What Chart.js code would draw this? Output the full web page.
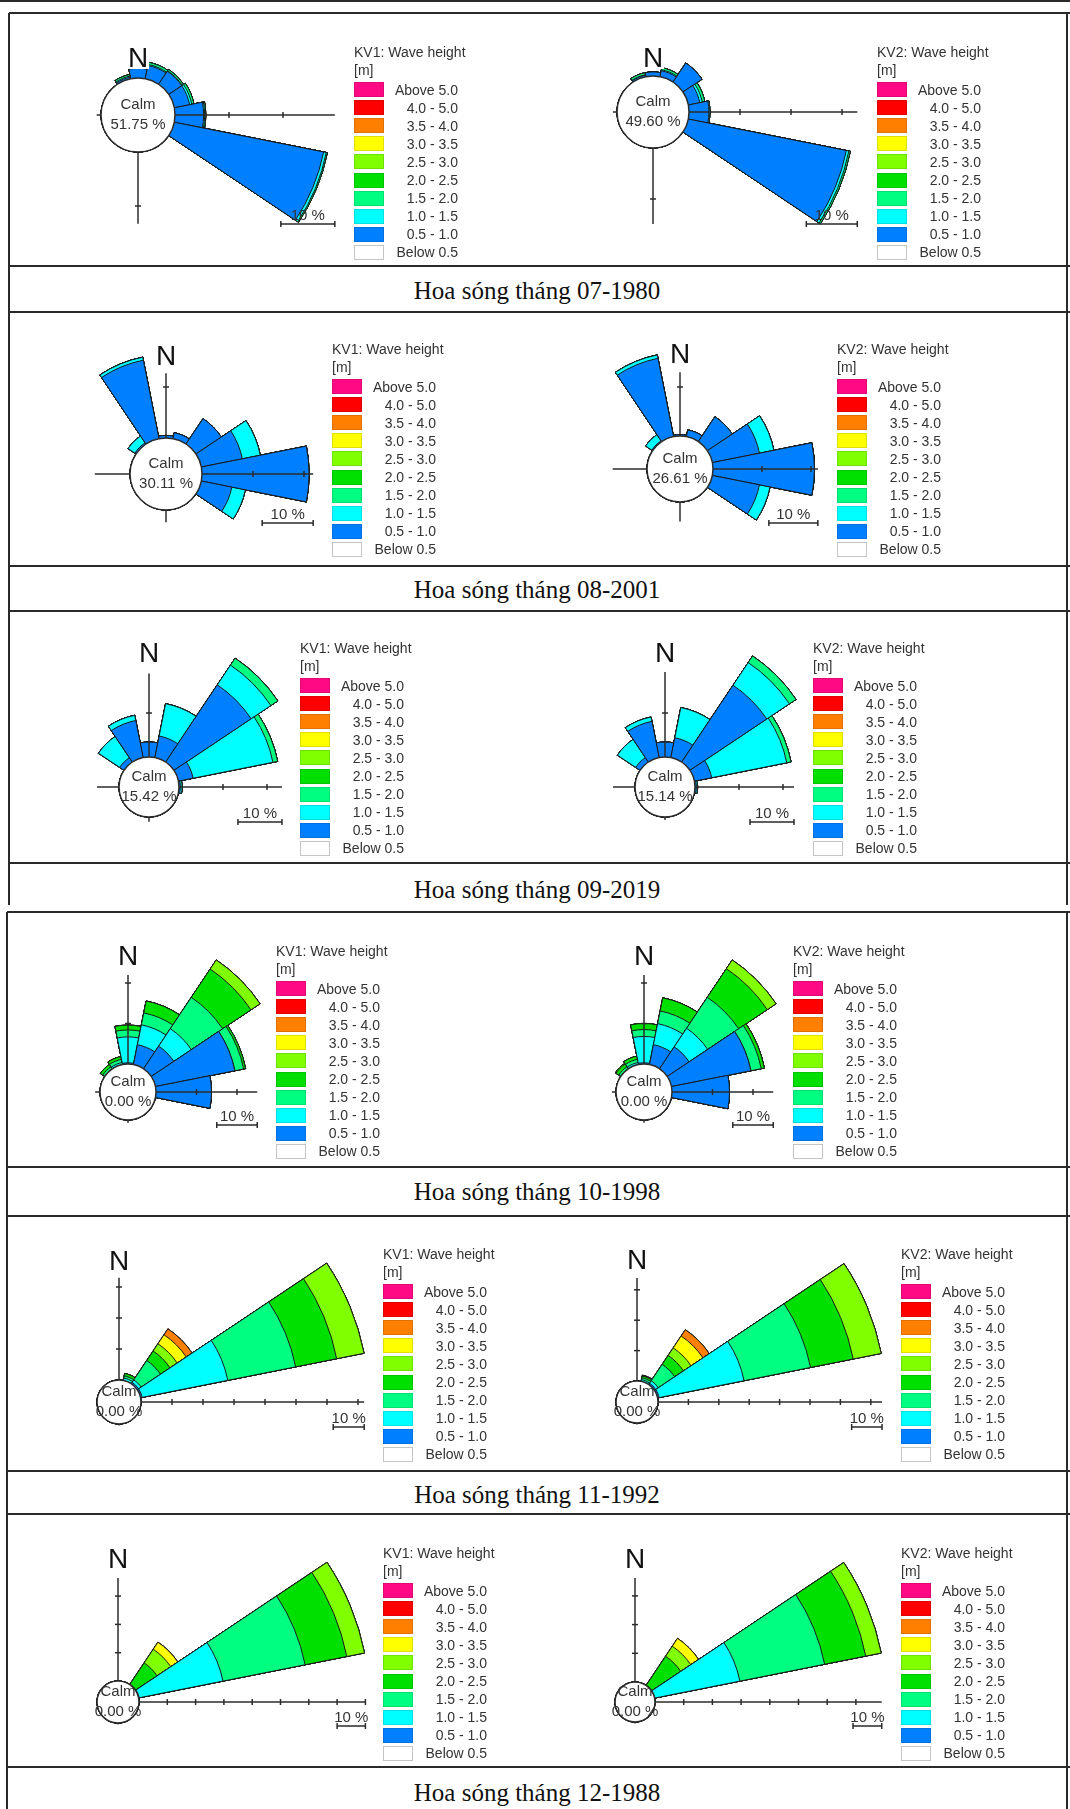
<!DOCTYPE html>
<html>
<head>
<meta charset="utf-8">
<script src="https://cdn.jsdelivr.net/npm/chart.js@4.4.1/dist/chart.umd.min.js"></script>
<style>
  body { margin: 0; width: 1070px; height: 1809px; position: relative; overflow: hidden; background: #fff;
         font-family: "Liberation Sans", Arial, sans-serif; }
  .hl { position: absolute; height: 2px; background: #2a2a2a; }
  .vl { position: absolute; width: 2px; background: #2a2a2a; }
  .cap { position: absolute; left: 0; width: 1074px; text-align: center; line-height: 30px;
         font-family: "Liberation Serif", "Times New Roman", serif; font-size: 25px; color: #111; }
  .rose { position: absolute; }
  .lg { position: absolute; font-size: 14px; line-height: 16px; color: #333; white-space: nowrap; }
  .box { position: absolute; width: 30px; height: 15px; box-sizing: border-box; border: 1px solid rgba(0,0,0,0.12); }
</style>
</head>
<body>
<script>
// hướng sóng (16 hướng) và các cấp độ cao sóng
const directions = ['N','NNE','NE','ENE','E','ESE','SE','SSE','S','SSW','SW','WSW','W','WNW','NW','NNW'];
const heightBins = ['0.5 - 1.0','1.0 - 1.5','1.5 - 2.0','2.0 - 2.5','2.5 - 3.0','3.0 - 3.5','3.5 - 4.0','4.0 - 5.0','Above 5.0'];
const legendLabels = ['Above 5.0','4.0 - 5.0','3.5 - 4.0','3.0 - 3.5','2.5 - 3.0','2.0 - 2.5','1.5 - 2.0','1.0 - 1.5','0.5 - 1.0','Below 0.5'];
const months = ['07-1980','08-2001','09-2019','10-1998','11-1992','12-1988'];
const stations = ['KV1','KV2'];
const calmPct = [51.75, 49.60, 30.11, 26.61, 15.42, 15.14, 0.00, 0.00, 0.00, 0.00, 0.00, 0.00];

// tần suất (%) theo hướng, mỗi mảng đi từ cấp 0.5-1.0 trở lên
const kv1_07_1980 = { NNW: [0.3, 0.2, 0.3], N: [1.8], NNE: [2.5, 0.2, 0.4], NE: [2.9, 0.1, 0.3],
                      ENE: [2.9, 0.4, 0.4], E: [5.3, 0.2, 0.2], ESE: [28.2, 0.5, 0.2] };
const kv2_07_1980 = { NNW: [0.3, 0.1, 0.4], N: [0.8], NNE: [1.2, 0.2, 0.4], NE: [4.5],
                      ENE: [2.3, 0.5, 0.5], E: [3.9, 0.2], ESE: [31.6, 0.5, 0.3] };
const kv1_08_2001 = { NW: [0.3, 1.6], NNW: [15.7, 0.6], N: [0.5], NNE: [1.2], NE: [6.0],
                      ENE: [8.2, 3.6], E: [21.0], ESE: [6.1, 2.7] };
const kv2_08_2001 = { NW: [0.2, 1.5], NNW: [16.3, 0.7], N: [0.3], NNE: [1.4], NE: [6.1],
                      ENE: [9.8, 3.0], E: [20.7], ESE: [9.8, 2.2] };
const kv1_09_2019 = { NW: [1.2, 5.8], NNW: [8.6, 1.2], N: [3.4], NNE: [5.0, 7.5],
                      NE: [21.1, 5.4, 1.9], ENE: [3.4, 18.5, 1.1], E: [0.3, 0.4] };
const kv2_09_2019 = { NW: [1.2, 5.0], NNW: [8.4, 1.0], N: [3.4], NNE: [4.6, 7.0],
                      NE: [21.0, 6.2, 1.8], ENE: [4.0, 17.4, 1.0], E: [0.3, 0.3] };
const kv1_10_1998 = { NW: [0, 0, 0.6, 0.7], NNW: [0, 0.5, 0.8, 0.7], N: [0.3, 6.4, 1.7, 1.2],
                      NNE: [5.0, 5.0, 3.0, 3.0], NE: [6.7, 5.2, 9.3, 8.4, 2.7],
                      ENE: [20.0, 0, 2.2, 0.5], E: [13.7] };
const kv2_10_1998 = { NW: [0, 0, 0.6, 0.8, 0.2], NNW: [0, 0.5, 0.8, 0.8], N: [0.3, 6.5, 1.7, 1.5],
                      NNE: [5.0, 5.3, 3.2, 3.3], NE: [6.5, 5.5, 9.2, 8.5, 2.6],
                      ENE: [20.0, 0, 2.6, 0.8], E: [14.2] };
const kv1_11_1992 = { NNE: [0, 0.8, 0.7, 0.8], NE: [0.5, 1.0, 7.5, 3.7, 2.8, 3.5, 2.3],
                      ENE: [0.5, 28.2, 22.3, 13.5, 9.0] };
const kv2_11_1992 = { NNE: [0, 0.6, 0.6, 0.6, 0, 0, 0.3], NE: [0.5, 1.0, 6.5, 3.5, 3.0, 4.7, 2.5],
                      ENE: [0.5, 28.5, 22.3, 14.3, 9.4] };
const kv1_12_1988 = { NE: [0, 0, 0.2, 9.0, 5.8, 3.0], ENE: [0.2, 30.2, 29.6, 15.0, 6.4] };
const kv2_12_1988 = { NE: [0, 0, 0, 12.2, 4.2, 3.3], ENE: [0, 30.3, 30.1, 14.6, 5.5] };

const roseValues = [kv1_07_1980, kv2_07_1980, kv1_08_2001, kv2_08_2001, kv1_09_2019, kv2_09_2019,
                    kv1_10_1998, kv2_10_1998, kv1_11_1992, kv2_11_1992, kv1_12_1988, kv2_12_1988];

// màu các cấp (từ 0.5-1.0 trở lên) và màu chú giải (từ trên xuống)
const binColors = ['#0080ff','#00ffff','#00ff80','#00e000','#80ff00','#ffff00','#ff8000','#ff0000','#ff0a84'];
const legendColors = ['#ff0a84','#ff0000','#ff8000','#ffff00','#80ff00','#00e000','#00ff80','#00ffff','#0080ff','#ffffff'];

// vị trí: tâm, bán kính vòng lặng, px cho 1%, trục [lên, phải, xuống, trái] theo %
const roseLayout = [
  { cx: 138, cy: 115,  r0: 37, k: 5.4,  axis: [0, 29.6, 13.3, 0.8],   nDy: -58,  barDy: 109, lx: 354, ly: 82 },
  { cx: 653, cy: 112,  r0: 36, k: 5.1,  axis: [0, 33, 14.9, 0.8],     nDy: -55,  barDy: 112, lx: 877, ly: 82 },
  { cx: 166, cy: 474,  r0: 36, k: 5.1,  axis: [12.7, 21.8, 2.4, 6.9], nDy: -119, barDy: 49,  lx: 332, ly: 379 },
  { cx: 680, cy: 469,  r0: 33, k: 4.9,  axis: [13, 21.4, 4, 7],       nDy: -116, barDy: 54,  lx: 837, ly: 379 },
  { cx: 149, cy: 787,  r0: 30, k: 4.4,  axis: [19, 23.4, 1.1, 5],     nDy: -135, barDy: 35,  lx: 300, ly: 678 },
  { cx: 665, cy: 787,  r0: 30, k: 4.4,  axis: [19.3, 22.5, 0.7, 5],   nDy: -135, barDy: 35,  lx: 813, ly: 678 },
  { cx: 128, cy: 1092, r0: 28, k: 4.05, axis: [22, 25, 0.7, 1.2],     nDy: -137, barDy: 33,  lx: 276, ly: 981 },
  { cx: 644, cy: 1092, r0: 28, k: 4.05, axis: [22, 25, 0.7, 1],       nDy: -137, barDy: 33,  lx: 793, ly: 981 },
  { cx: 119, cy: 1402, r0: 22, k: 3.1,  axis: [33, 72, 0.5, 0],       nDy: -142, barDy: 25,  lx: 383, ly: 1284 },
  { cx: 637, cy: 1402, r0: 21, k: 3.04, axis: [33.9, 73.7, 0.5, 0],   nDy: -143, barDy: 25,  lx: 901, ly: 1284 },
  { cx: 118, cy: 1702, r0: 21, k: 2.83, axis: [36.4, 80, 0.5, 0],     nDy: -144, barDy: 24,  lx: 383, ly: 1583 },
  { cx: 635, cy: 1702, r0: 20, k: 2.87, axis: [36.2, 79, 0.5, 0],     nDy: -144, barDy: 24,  lx: 901, ly: 1583 }
];
const captionY = [291, 590, 890, 1192, 1495, 1793];

// khung bảng
const hLines = [[0, 1, 1070], [9, 13, 1070], [9, 266, 1070], [9, 312, 1070], [9, 566, 1070], [9, 611, 1070], [9, 863, 1070],
                [7, 912, 1070], [7, 1167, 1070], [7, 1216, 1070], [7, 1471, 1070], [7, 1514, 1070], [7, 1767, 1070]];
const vLines = [[9, 13, 905], [7, 912, 1809], [1067, 13, 905], [1067, 912, 1809]];

function addDiv(cls, style, text) {
  const el = document.createElement('div');
  el.className = cls;
  Object.assign(el.style, style);
  if (text !== undefined) el.textContent = text;
  document.body.appendChild(el);
  return el;
}

hLines.forEach(([x1, y, x2]) => addDiv('hl', { left: x1 + 'px', top: (y - 1) + 'px', width: (x2 - x1) + 'px' }));
vLines.forEach(([x, y1, y2]) => addDiv('vl', { left: (x - 1) + 'px', top: y1 + 'px', height: (y2 - y1) + 'px' }));
months.forEach((m, i) => addDiv('cap', { top: (captionY[i] - 15) + 'px' }, 'Hoa sóng tháng ' + m));

const roseDecor = {
  id: 'roseDecor',
  afterDatasetsDraw(chart, args, o) {
    const r = chart.scales.r, ctx = chart.ctx;
    const cx = r.xCenter, cy = r.yCenter;
    const d = v => r.getDistanceFromCenterForValue(v);
    const R0 = d(0);
    ctx.save();
    ctx.strokeStyle = '#2b2b2b';
    ctx.lineWidth = 1.5;
    const dirs = [[0, -1], [1, 0], [0, 1], [-1, 0]];
    o.axis.forEach((ext, i) => {
      if (!ext) return;
      const [ux, uy] = dirs[i];
      ctx.beginPath();
      ctx.moveTo(cx + ux * R0, cy + uy * R0);
      ctx.lineTo(cx + ux * d(ext), cy + uy * d(ext));
      ctx.stroke();
      for (let t = 10; t <= ext; t += 10) {
        const px = cx + ux * d(t), py = cy + uy * d(t);
        ctx.beginPath();
        ctx.moveTo(px - uy * 3, py - ux * 3);
        ctx.lineTo(px + uy * 3, py + ux * 3);
        ctx.stroke();
      }
    });
    // vòng lặng
    ctx.beginPath();
    ctx.arc(cx, cy, R0, 0, Math.PI * 2);
    ctx.fillStyle = '#fff';
    ctx.fill();
    ctx.stroke();
    ctx.fillStyle = '#333';
    ctx.font = '15px "Liberation Sans", Arial, sans-serif';
    ctx.textAlign = 'center';
    ctx.textBaseline = 'middle';
    ctx.fillText('Calm', cx, cy - 10);
    ctx.fillText(o.calm.toFixed(2) + ' %', cx, cy + 10);
    // chữ N
    ctx.font = '28px "Liberation Sans", Arial, sans-serif';
    ctx.textBaseline = 'alphabetic';
    const w = ctx.measureText('N').width;
    ctx.fillStyle = '#fff';
    ctx.fillRect(cx - w / 2 - 1, cy + o.nDy - 12, w + 2, 24);
    ctx.fillStyle = '#111';
    ctx.fillText('N', cx, cy + o.nDy + 10);
    // thước 10 %
    const x2 = cx + d(o.axis[1]);
    const x1 = x2 - (d(10) - d(0));
    const y = cy + o.barDy;
    ctx.beginPath();
    ctx.moveTo(x1, y); ctx.lineTo(x2, y);
    ctx.moveTo(x1, y - 3); ctx.lineTo(x1, y + 3);
    ctx.moveTo(x2, y - 3); ctx.lineTo(x2, y + 3);
    ctx.stroke();
    ctx.fillStyle = '#333';
    ctx.font = '15px "Liberation Sans", Arial, sans-serif';
    ctx.fillText('10 %', (x1 + x2) / 2, y - 4);
    ctx.restore();
  }
};

roseValues.forEach((vals, i) => {
  const lay = roseLayout[i];
  const sums = directions.map(() => 0);
  const datasets = [];
  heightBins.forEach((bin, b) => {
    const row = directions.map((dir, j) => {
      sums[j] += (vals[dir] && vals[dir][b]) || 0;
      return +sums[j].toFixed(3);
    });
    datasets.push({ label: bin, data: row, backgroundColor: binColors[b], borderColor: '#1a1a1a', borderWidth: 1 });
  });
  const maxVal = Math.max(...sums, ...lay.axis);
  let D = Math.ceil(lay.r0 + lay.k * maxVal + 20);
  D = Math.max(D, 25 - lay.nDy, lay.barDy + 15);

  const cv = document.createElement('canvas');
  cv.className = 'rose';
  cv.width = 2 * D; cv.height = 2 * D;
  cv.style.left = (lay.cx - D) + 'px';
  cv.style.top = (lay.cy - D) + 'px';
  document.body.appendChild(cv);

  new Chart(cv, {
    type: 'polarArea',
    data: { labels: directions, datasets: datasets },
    options: {
      responsive: false,
      animation: false,
      events: [],
      layout: { padding: 0 },
      scales: {
        r: {
          min: -lay.r0 / lay.k,
          max: (D - lay.r0) / lay.k,
          bounds: 'data',
          startAngle: -11.25,
          ticks: { display: false },
          grid: { display: false },
          angleLines: { display: false },
          pointLabels: { display: false }
        }
      },
      plugins: {
        legend: { display: false },
        tooltip: { enabled: false },
        roseDecor: { axis: lay.axis, calm: calmPct[i], nDy: lay.nDy, barDy: lay.barDy }
      }
    },
    plugins: [roseDecor]
  });

  // chú giải
  addDiv('lg', { left: lay.lx + 'px', top: (lay.ly - 38) + 'px' }, stations[i % 2] + ': Wave height');
  addDiv('lg', { left: lay.lx + 'px', top: (lay.ly - 20) + 'px' }, '[m]');
  legendLabels.forEach((lab, j) => {
    const top = lay.ly + j * 18.1;
    addDiv('box', { left: lay.lx + 'px', top: top + 'px', background: legendColors[j],
                    borderColor: j === 9 ? '#c4c4c4' : 'rgba(0,0,0,0.12)' });
    addDiv('lg', { left: lay.lx + 'px', width: '104px', textAlign: 'right', top: (top - 0.5) + 'px' }, lab);
  });
});
</script>
</body>
</html>
